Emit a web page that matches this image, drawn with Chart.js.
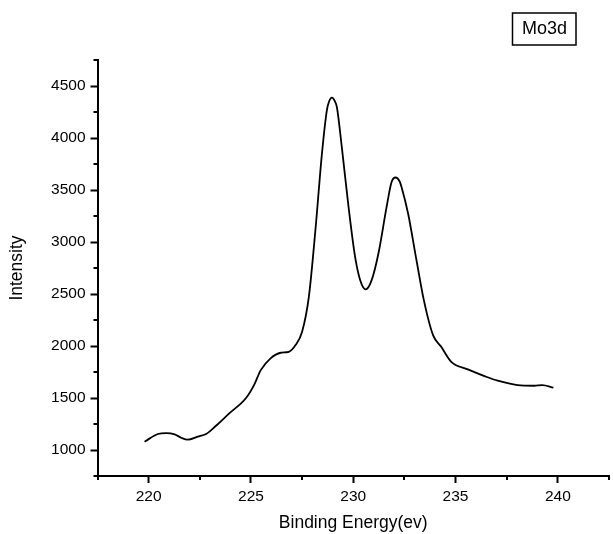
<!DOCTYPE html>
<html>
<head>
<meta charset="utf-8">
<script src="https://cdn.jsdelivr.net/npm/chart.js@4"></script>
<style>
  html, body { margin: 0; padding: 0; background: #fff; }
  #wrap { width: 613px; height: 534px; position: relative; }
</style>
</head>
<body>
<div id="wrap"><canvas id="c"></canvas></div>
<script>
const energy = [219.8, 220.45, 220.86, 221.27, 221.59, 221.91, 222.40, 222.81, 223.29, 223.94,
  224.75, 225.15, 225.48, 225.96, 226.45, 226.85, 227.18, 227.50, 227.83, 228.15,
  228.47, 228.71, 228.81, 228.96, 229.12, 229.20, 229.44, 229.77, 230.09, 230.34,
  230.61, 230.90, 231.23, 231.63, 231.87, 232.07, 232.28, 232.36, 232.68, 233.09,
  233.45, 233.90, 234.30, 234.79, 235.60, 236.41, 237.06, 238.03, 238.84, 239.24, 239.78];
const intensity = [1080, 1154, 1163, 1151, 1118, 1099, 1128, 1154, 1233, 1352,
  1497, 1624, 1768, 1881, 1935, 1944, 2009, 2137, 2473, 3113,
  3850, 4266, 4346, 4388, 4346, 4298, 3914, 3337, 2857, 2633,
  2544, 2633, 2889, 3337, 3575, 3620, 3577, 3529, 3274, 2825,
  2441, 2105, 1992, 1848, 1775, 1711, 1666, 1624, 1618, 1624, 1599];
const xTitle = 'Binding Energy(ev)';
const yTitle = 'Intensity';
const labelText = 'Mo3d';
const xRange = [217.5, 242.5];
const yRange = [750, 4750];

const FONT = '"Liberation Sans", Arial, sans-serif';
const isMajorX = v => Math.round(v * 10) % 50 === 0;
const isMajorY = v => Math.round(v) % 500 === 0;

const minorTicks = {
  id: 'minorTicks',
  afterDraw(chart) {
    const ctx = chart.ctx;
    ctx.save();
    ctx.strokeStyle = '#000';
    ctx.lineWidth = 2;
    const xs = chart.scales.x, ys = chart.scales.y;
    const bottom = chart.chartArea.bottom, left = chart.chartArea.left;
    xs.ticks.forEach(t => {
      if (!isMajorX(t.value)) {
        const px = Math.round(xs.getPixelForValue(t.value));
        ctx.beginPath(); ctx.moveTo(px, bottom); ctx.lineTo(px, bottom + 4); ctx.stroke();
      }
    });
    ys.ticks.forEach(t => {
      if (!isMajorY(t.value)) {
        const py = Math.round(ys.getPixelForValue(t.value));
        ctx.beginPath(); ctx.moveTo(left, py); ctx.lineTo(left - 4, py); ctx.stroke();
      }
    });
    // label box
    ctx.lineWidth = 1.5;
    ctx.strokeRect(512.5, 13, 63.5, 32);
    ctx.fillStyle = '#000';
    ctx.font = '18px ' + FONT;
    ctx.textAlign = 'center';
    ctx.textBaseline = 'middle';
    ctx.fillText(labelText, 544.5, 29.5);
    ctx.restore();
  }
};

new Chart(document.getElementById('c'), {
  type: 'line',
  data: {
    datasets: [{
      data: energy.map((e, i) => ({ x: e, y: intensity[i] })),
      borderColor: '#000',
      borderWidth: 1.8,
      pointRadius: 0,
      fill: false,
      cubicInterpolationMode: 'monotone'
    }]
  },
  options: {
    responsive: true,
    maintainAspectRatio: false,
    animation: false,
    devicePixelRatio: 1,
    layout: { padding: { top: 60, right: 1, left: 0, bottom: 0 } },
    plugins: { legend: { display: false }, tooltip: { enabled: false } },
    scales: {
      x: {
        type: 'linear',
        min: xRange[0], max: xRange[1],
        afterFit(s) { s.height = 58; },
        border: { display: true, color: '#000', width: 2 },
        grid: {
          drawOnChartArea: false, drawTicks: true, tickLength: 7, tickWidth: 2,
          tickColor: c => (c.tick && isMajorX(c.tick.value)) ? '#000' : 'rgba(0,0,0,0)'
        },
        ticks: {
          stepSize: 2.5, autoSkip: false, maxRotation: 0, padding: 4,
          color: '#000', font: { family: FONT, size: 15.5 },
          callback: v => isMajorX(v) ? String(Math.round(v)) : ''
        },
        title: {
          display: true, text: xTitle, color: '#000',
          font: { family: FONT, size: 17.5 }, padding: { top: 0.5, bottom: 0 }
        }
      },
      y: {
        type: 'linear',
        min: yRange[0], max: yRange[1],
        afterFit(s) { s.width = 97.5; },
        border: { display: true, color: '#000', width: 2 },
        grid: {
          drawOnChartArea: false, drawTicks: true, tickLength: 7, tickWidth: 2,
          tickColor: c => (c.tick && isMajorY(c.tick.value)) ? '#000' : 'rgba(0,0,0,0)'
        },
        ticks: {
          stepSize: 250, autoSkip: false, padding: 5,
          color: '#000', font: { family: FONT, size: 15.5 },
          callback: v => isMajorY(v) ? String(v) : ''
        },
        title: {
          display: true, text: yTitle, color: '#000',
          font: { family: FONT, size: 17.5 }, padding: { top: 6.5, bottom: 0 }
        }
      }
    }
  },
  plugins: [minorTicks]
});
</script>
</body>
</html>
